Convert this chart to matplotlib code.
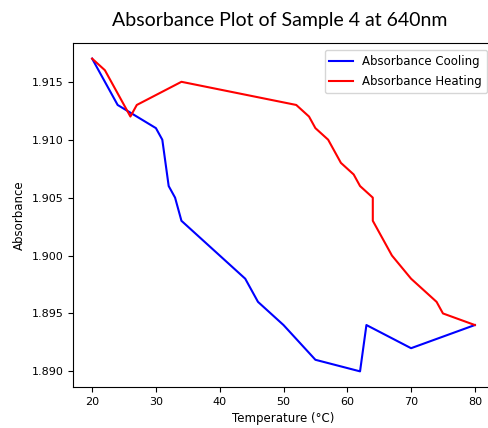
import numpy as np
import matplotlib
matplotlib.use("Agg")
import matplotlib.pyplot as plt

# cooling run
temp_cool = [20, 24, 30, 31, 32, 33, 34, 44, 46, 50, 55, 62, 63, 70, 80]
abs_cool = [1.917, 1.913, 1.911, 1.910, 1.906, 1.905, 1.903, 1.898, 1.896,
            1.894, 1.891, 1.890, 1.894, 1.892, 1.894]

# heating run
temp_heat = [20, 22, 26, 27, 34, 52, 54, 55, 57, 59, 61, 62, 64, 64, 67,
             70, 74, 75, 80]
abs_heat = [1.917, 1.916, 1.912, 1.913, 1.915, 1.913, 1.912, 1.911, 1.910,
            1.908, 1.907, 1.906, 1.905, 1.903, 1.900, 1.898, 1.896, 1.895,
            1.894]

def main():
    fig = plt.figure(figsize=(4.89, 4.28), dpi=100)
    ax = fig.add_axes([73 / 489, 1 - 387 / 428, (494 - 73) / 489, (387 - 43) / 428])
    ax.plot(temp_cool, abs_cool, color="blue", label="Absorbance Cooling")
    ax.plot(temp_heat, abs_heat, color="red", label="Absorbance Heating")
    ax.set_xlabel("Temperature (°C)", fontsize=8.5)
    ax.set_ylabel("Absorbance", fontsize=8.5)
    ax.tick_params(labelsize=8)
    ax.set_yticks(np.arange(1.890, 1.9151, 0.005))
    ax.yaxis.set_major_formatter(plt.FormatStrFormatter("%.3f"))
    ax.legend(fontsize=8.5, loc="upper right", borderaxespad=0.6,
              labelspacing=0.65)
    ax.set_title("Absorbance Plot of Sample 4 at 640nm", fontsize=14,
                 family="Lato", pad=12, x=0.4905)
    fig.savefig("out.png", dpi=100)

if __name__ == "__main__":
    main()
